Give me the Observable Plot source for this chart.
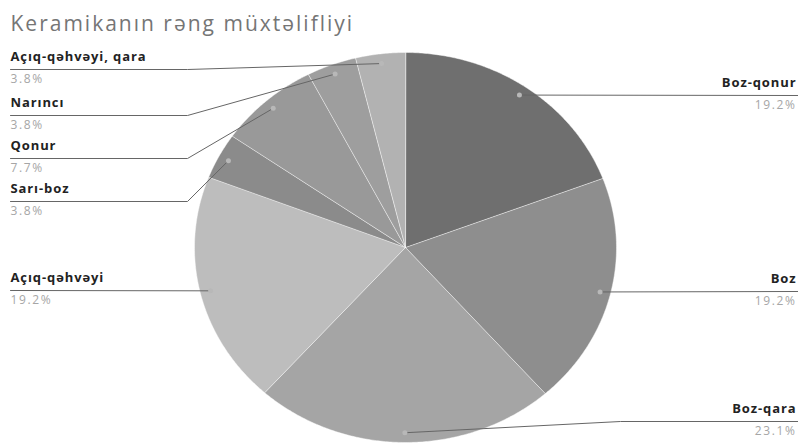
<!DOCTYPE html>
<html>
<head>
<meta charset="utf-8">
<script src="https://cdn.jsdelivr.net/npm/d3@7"></script>
<script src="https://cdn.jsdelivr.net/npm/@observablehq/plot@0.6"></script>
<style>
  html, body { margin: 0; padding: 0; background: #fff; }
  #chart svg { display: block; }
</style>
</head>
<body>
<div id="chart"></div>
<script>
// ---- data ----
const title = "Keramikanın rəng müxtəlifliyi";
const categories = ["Boz-qonur", "Boz", "Boz-qara", "Açıq-qəhvəyi", "Sarı-boz", "Qonur", "Narıncı", "Açıq-qəhvəyi, qara"];
const values = [19.2, 19.2, 23.1, 19.2, 3.8, 7.7, 3.8, 3.8];
const colors = ["#6f6f6f", "#8e8e8e", "#a5a5a5", "#bdbdbd", "#8b8b8b", "#999999", "#9e9e9e", "#b2b2b2"];

// ---- layout (pixels) ----
const W = 798, H = 444;
const cx = 405, cy = 247, rx = 211, ry = 195;
const anchorR = 0.95;
const labelLayout = {
  "Boz-qonur": {side: "right"},
  "Boz": {side: "right"},
  "Boz-qara": {side: "right", lineY: 421, elbowX: 620},
  "Açıq-qəhvəyi": {side: "left"},
  "Sarı-boz": {side: "left", lineY: 201, elbowX: 187},
  "Qonur": {side: "left", lineY: 158, elbowX: 187},
  "Narıncı": {side: "left", lineY: 115, elbowX: 187},
  "Açıq-qəhvəyi, qara": {side: "left", lineY: 69, elbowX: 187}
};
const ux = px => (px - cx) / rx;
const uy = py => (cy - py) / ry;

// ---- geometry from data ----
const total = d3.sum(values);
let acc = 0;
const slices = categories.map((name, i) => {
  const a0 = acc / total * 2 * Math.PI;
  acc += values[i];
  const a1 = acc / total * 2 * Math.PI;
  const mid = (a0 + a1) / 2;
  const pts = [{x: 0, y: 0}];
  const n = Math.max(4, Math.ceil((a1 - a0) / (Math.PI / 360)));
  for (let k = 0; k <= n; k++) {
    const a = a0 + (a1 - a0) * k / n;
    pts.push({x: Math.sin(a), y: Math.cos(a)});
  }
  return {name, value: values[i], color: colors[i], a0, a1, mid, pts,
          ax: anchorR * Math.sin(mid), ay: anchorR * Math.cos(mid)};
});

const leaders = [];
const nameLabels = [];
const pctLabels = [];
for (const s of slices) {
  const L = labelLayout[s.name];
  const anchorPy = cy - s.ay * ry;
  const lineY = L.lineY ?? Math.round(anchorPy);
  const pts = [{x: s.ax, y: s.ay}];
  if (L.elbowX != null) pts.push({x: ux(L.elbowX), y: uy(lineY)});
  const right = L.side === "right";
  const tx = right ? 796 : 10;
  const anchor = right ? "end" : "start";
  pts.push({x: ux(right ? W : 10), y: uy(lineY)});
  nameLabels.push({x: ux(tx), y: uy(lineY - 9), text: s.name, anchor});
  pctLabels.push({x: ux(tx), y: uy(lineY + 5), text: s.value.toFixed(1) + "%", anchor});
  pts.forEach(p => leaders.push({...p, name: s.name}));
}

const font = "'Open Sans', sans-serif";

const chart = Plot.plot({
  width: W,
  height: H,
  margin: 0,
  style: {background: "#fff", fontFamily: font},
  x: {domain: [-1, 1], range: [cx - rx, cx + rx], axis: null},
  y: {domain: [-1, 1], range: [cy + ry, cy - ry], axis: null},
  marks: [
    ...slices.map(s => Plot.line(s.pts, {
      x: "x", y: "y", fill: s.color, stroke: "#fff", strokeWidth: 1, strokeOpacity: 0.45,
      curve: "linear-closed"
    })),
    Plot.line(leaders, {x: "x", y: "y", z: "name", stroke: "#666", strokeWidth: 1}),
    Plot.dot(slices, {x: "ax", y: "ay", r: 2.5, fill: "#b8b8b8", stroke: null}),
    ...["start", "end"].map(a => Plot.text(nameLabels.filter(d => d.anchor === a), {
      x: "x", y: "y", text: "text", textAnchor: a, lineAnchor: "bottom",
      fontSize: 13, fontWeight: "bold", fill: "#222"
    })),
    ...["start", "end"].map(a => Plot.text(pctLabels.filter(d => d.anchor === a), {
      x: "x", y: "y", text: "text", textAnchor: a, lineAnchor: "top",
      fontSize: 12, fill: "#a6a6a6"
    })),
    Plot.text([title], {x: () => ux(10), y: () => uy(30), text: d => d, textAnchor: "start", lineAnchor: "bottom", fontSize: 21, fill: "#757575"})
  ]
});
// letter spacing to match the reference's wide text
d3.select(chart).selectAll("text").each(function() {
  const t = this.textContent;
  let ls = null;
  if (t === title) ls = "2px";
  else if (categories.includes(t)) ls = "0.9px";
  else if (t.endsWith("%")) ls = "1.6px";
  if (ls) this.style.letterSpacing = ls;
});
document.getElementById("chart").append(chart);
</script>
</body>
</html>
